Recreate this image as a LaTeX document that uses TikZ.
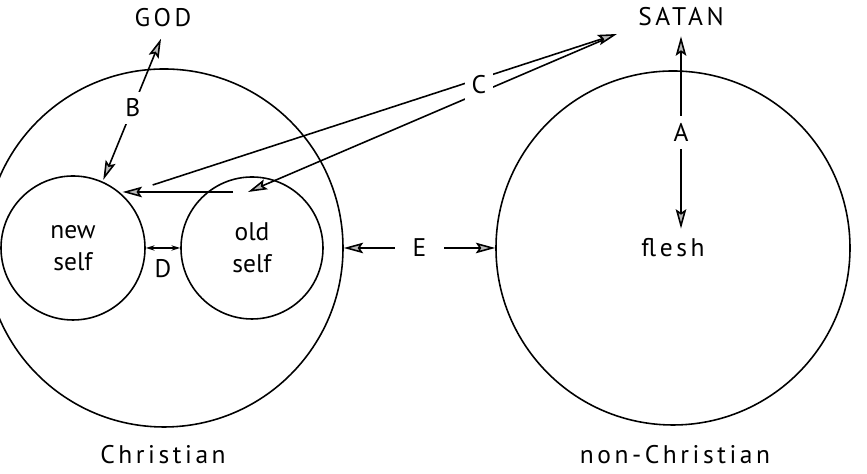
\documentclass[tikz,border=0pt]{standalone}
\usepackage{fontspec}
\setmainfont{PT Sans}
\usetikzlibrary{arrows.meta}
\newcommand{\spaced}[1]{{\addfontfeatures{LetterSpace=14}#1}}

\begin{document}
\begin{tikzpicture}[line width=0.9pt, every node/.style={font=\fontsize{14.5}{18}\selectfont},
  >={Stealth[length=11pt,width=6pt,inset=2pt,fill=gray!55]},
  ring/.style={circle, draw, inner sep=0pt},
  lbl/.style={fill=white, inner sep=4pt}]
  \useasboundingbox (0,0) rectangle (17.34,9.48);
  % circles
  \node[ring, minimum size=7.16cm] (christian) at (3.28,4.52) {};
  \node[ring, minimum size=7.08cm] (nonchr) at (13.46,4.52) {};
  \node[ring, minimum size=2.88cm, align=center] (newself) at (1.46,4.52) {new\\self};
  \node[ring, minimum size=2.84cm, align=center] (oldself) at (5.04,4.52) {old\\self};
  \node (flesh) at (13.46,4.52) {\spaced{flesh}};
  % names
  \node (god) at (3.26,9.12) {\spaced{GOD}};
  \node (satan) at (13.62,9.14) {\spaced{SATAN}};
  \node (chrlbl) at (3.26,0.38) {\spaced{Christian}};
  \node (nonlbl) at (13.5,0.38) {\spaced{non-Christian}};
  % arrow ends
  \coordinate (stip) at (12.34,8.8);
  \coordinate (oldtip) at (4.96,5.64);
  \coordinate (oldtop) at (4.66,5.64);
  % connectors
  \draw[<->, shorten <=1pt, shorten >=3pt] (newself.66) -- node[lbl] {B} (god.south);
  \draw[<->, shorten <=2pt, shorten >=2pt] (satan.south) -- node[lbl] {A} (satan.south |- flesh.north);
  \draw[->, shorten <=18pt] (newself.47) -- (stip);
  \draw[->, shorten <=8pt] (stip) -- (oldtip);
  \draw[->] (oldtop) -- (oldtop -| newself.47);
  \node[lbl] at (9.58,7.78) {C};
  \draw[<->, >={Stealth[length=5pt,width=3pt,fill=gray!55]}] (newself.east) -- node[below=3pt] {D} (oldself.west);
  \draw[<->] (christian.east) -- node[lbl, inner xsep=10pt] {E} (nonchr.west);
\end{tikzpicture}
\end{document}
